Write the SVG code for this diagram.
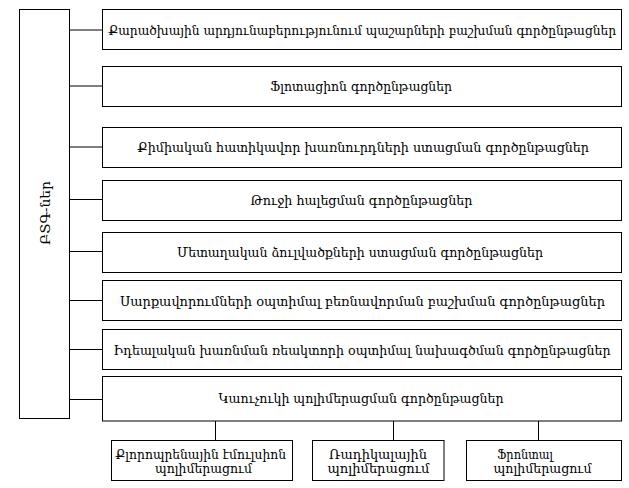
<svg xmlns="http://www.w3.org/2000/svg" width="629" height="488" viewBox="0 0 629 488">
<style>
.box{fill:#fff;stroke:#000;stroke-width:1}
.ln{stroke:#000;stroke-width:1;fill:none}
.t{font-family:"DejaVu Serif","Noto Sans",serif;font-size:13px;fill:#000;text-anchor:middle}
.sm{font-size:12px}
</style>
<rect width="629" height="488" fill="#fff"/>
<g id="connectors">
<line class="ln" x1="69.5" y1="30" x2="102.5" y2="30"/>
<line class="ln" x1="69.5" y1="86" x2="102.5" y2="86"/>
<line class="ln" x1="69.5" y1="147" x2="102.5" y2="147"/>
<line class="ln" x1="69.5" y1="199.5" x2="102.5" y2="199.5"/>
<line class="ln" x1="69.5" y1="251.5" x2="102.5" y2="251.5"/>
<line class="ln" x1="69.5" y1="300.5" x2="102.5" y2="300.5"/>
<line class="ln" x1="69.5" y1="349.5" x2="102.5" y2="349.5"/>
<line class="ln" x1="69.5" y1="399.5" x2="102.5" y2="399.5"/>
<line class="ln" x1="215.5" y1="421" x2="215.5" y2="440.5"/>
<line class="ln" x1="393.5" y1="421" x2="393.5" y2="440.5"/>
<line class="ln" x1="538.5" y1="421" x2="538.5" y2="440.5"/>
</g>
<g id="root">
<rect class="box" x="19.5" y="9.5" width="50" height="409"/>
<text class="t" transform="translate(50,213) rotate(-90)" x="0" y="0" textLength="64" lengthAdjust="spacingAndGlyphs">ԲՏԳ-ներ</text>
</g>
<g id="n1">
<rect class="box" x="102.5" y="9.5" width="519" height="40"/>
<text class="t sm" x="362" y="34.5" textLength="508" lengthAdjust="spacingAndGlyphs">Քարածխային արդյունաբերությունում պաշարների բաշխման գործընթացներ</text>
</g>
<g id="n2">
<rect class="box" x="102.5" y="66.5" width="519" height="40"/>
<text class="t" x="361" y="91" textLength="182" lengthAdjust="spacingAndGlyphs">Ֆլոտացիոն գործընթացներ</text>
</g>
<g id="n3">
<rect class="box" x="102.5" y="127.5" width="519" height="40"/>
<text class="t" x="363" y="152" textLength="452" lengthAdjust="spacingAndGlyphs">Քիմիական հատիկավոր խառնուրդների ստացման գործընթացներ</text>
</g>
<g id="n4">
<rect class="box" x="102.5" y="180.5" width="519" height="40"/>
<text class="t" x="361.5" y="205" textLength="222" lengthAdjust="spacingAndGlyphs">Թուջի հալեցման գործընթացներ</text>
</g>
<g id="n5">
<rect class="box" x="102.5" y="232.5" width="519" height="40"/>
<text class="t" x="360" y="257" textLength="366" lengthAdjust="spacingAndGlyphs">Մետաղական ձուլվածքների ստացման գործընթացներ</text>
</g>
<g id="n6">
<rect class="box" x="102.5" y="280.5" width="519" height="40"/>
<text class="t" x="362.5" y="305.5" textLength="485" lengthAdjust="spacingAndGlyphs">Սարքավորումների օպտիմալ բեռնավորման բաշխման գործընթացներ</text>
</g>
<g id="n7">
<rect class="box" x="102.5" y="329.5" width="519" height="40"/>
<text class="t" x="362" y="354.5" textLength="497" lengthAdjust="spacingAndGlyphs">Իդեալական խառնման ռեակտորի օպտիմալ նախագծման գործընթացներ</text>
</g>
<g id="n8">
<rect class="box" x="102.5" y="376.5" width="519" height="44.5"/>
<text class="t" x="361" y="402.5" textLength="285" lengthAdjust="spacingAndGlyphs">Կաուչուկի պոլիմերացման գործընթացներ</text>
</g>
<g id="s1">
<rect class="box" x="111.5" y="440.5" width="181" height="40"/>
<text class="t" x="200.5" y="458.5" textLength="171" lengthAdjust="spacingAndGlyphs">Քլորոպրենային էմուլսիոն</text>
<text class="t" x="203.5" y="472.5" textLength="97" lengthAdjust="spacingAndGlyphs">պոլիմերացում</text>
</g>
<g id="s2">
<rect class="box" x="312.5" y="440.5" width="131.5" height="40"/>
<text class="t" x="378" y="458.5" textLength="98" lengthAdjust="spacingAndGlyphs">Ռադիկալային</text>
<text class="t" x="378.5" y="472.5" textLength="102" lengthAdjust="spacingAndGlyphs">պոլիմերացում</text>
</g>
<g id="s3">
<rect class="box" x="466.5" y="440.5" width="155" height="40"/>
<text class="t" x="525" y="458.5" textLength="56" lengthAdjust="spacingAndGlyphs">Ֆրոնտալ</text>
<text class="t" x="542.5" y="472.5" textLength="98" lengthAdjust="spacingAndGlyphs">պոլիմերացում</text>
</g>
</svg>
